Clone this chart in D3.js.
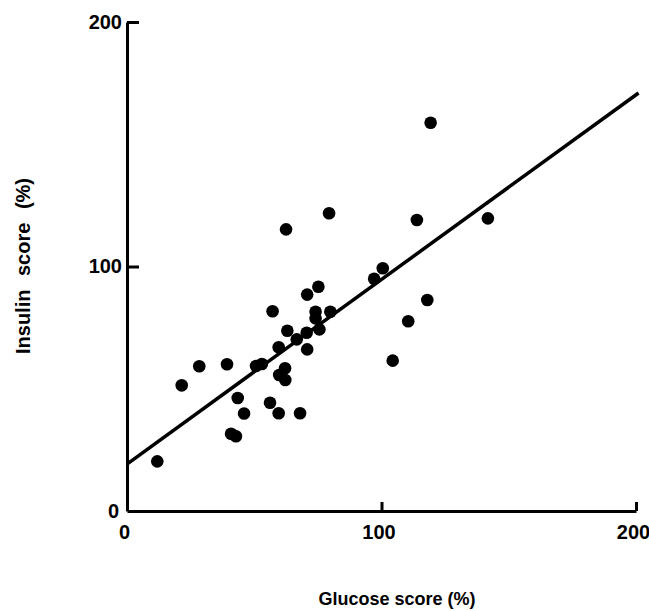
<!DOCTYPE html>
<html>
<head>
<meta charset="utf-8">
<script src="https://cdn.jsdelivr.net/npm/d3@7"></script>
<style>
  html, body { margin: 0; padding: 0; background: #fff; }
  svg { display: block; }
  text { font-family: "Liberation Sans", Arial, Helvetica, sans-serif; font-weight: bold; fill: #000; }
</style>
</head>
<body>
<svg id="chart" width="649" height="611"></svg>
<script>
// Glucose score (%) for each food
const glucose = [11.9, 21.5, 28.4, 39.3, 43.5, 46.0, 40.9, 42.8, 50.7, 53.0,
                 56.2, 59.6, 68.0, 59.8, 62.1, 62.2, 59.6, 63.0, 66.7, 70.6,
                 70.8, 70.8, 75.2, 74.1, 74.1, 75.6, 79.9, 97.1, 100.5, 104.4,
                 110.5, 118.0, 119.3, 79.4, 62.5, 113.9, 141.8, 57.2];
// Insulin score (%) for each food
const insulin = [20.3, 51.4, 59.2, 60.0, 46.2, 39.9, 31.6, 30.6, 59.3, 60.1,
                 44.3, 40.0, 40.0, 55.6, 58.4, 53.6, 67.0, 73.7, 70.2, 72.9,
                 66.1, 88.5, 91.7, 81.5, 78.8, 74.3, 81.5, 95.0, 99.3, 61.5,
                 77.6, 86.3, 158.8, 121.8, 115.2, 119.0, 119.7, 81.7];
// Regression line: insulin = intercept + slope * glucose
const fitIntercept = 19.2;
const fitSlope = 0.755;
const fitRange = [0, 201];
const xTicks = [0, 100, 200];
const yTicks = [0, 100, 200];
const xTitle = "Glucose score (%)";
const yTitle = "Insulin score (%)";

const svg = d3.select("#chart");
const x = d3.scaleLinear().domain([0, 200]).range([127, 636]);
const y = d3.scaleLinear().domain([0, 200]).range([511, 22]);

// axes
const gx = svg.append("g").attr("transform", `translate(0,${y(0)})`)
  .call(d3.axisBottom(x).tickValues(xTicks).tickSizeInner(-9).tickSizeOuter(0).tickPadding(14).tickFormat(d3.format("d")));
const gy = svg.append("g").attr("transform", `translate(${x(0)},0)`)
  .call(d3.axisLeft(y).tickValues(yTicks).tickSizeInner(-12).tickSizeOuter(0).tickPadding(5).tickFormat(d3.format("d")));

[gx, gy].forEach(g => {
  g.select(".domain").attr("stroke", "#000").attr("stroke-width", 3);
  g.selectAll(".tick line").attr("stroke", "#000").attr("stroke-width", 3);
  g.selectAll(".tick text").attr("font-size", 20).attr("fill", "#000")
    .style("font-family", '"Liberation Sans", Arial, sans-serif').style("font-weight", "bold");
});
gx.selectAll(".tick text").attr("dx", -3);
gx.selectAll(".tick").filter(d => d === 0).select("line").remove();
gy.selectAll(".tick").filter(d => d === 0).select("line").remove();
gy.selectAll(".tick").filter(d => d === 0).select("text").attr("dx", -3);

// regression line
const line = d3.line().x(d => x(d)).y(d => y(fitIntercept + fitSlope * d));
svg.append("path").datum(fitRange).attr("d", line)
  .attr("fill", "none").attr("stroke", "#000").attr("stroke-width", 3.5);

// points
svg.append("g").selectAll("circle").data(glucose.map((g, i) => [g, insulin[i]]))
  .join("circle")
  .attr("cx", d => x(d[0])).attr("cy", d => y(d[1])).attr("r", 6.3)
  .attr("fill", "#000");

// titles
svg.append("text").attr("x", 397).attr("y", 605).attr("text-anchor", "middle")
  .attr("font-size", 18).text(xTitle);
svg.append("text").attr("transform", "translate(30,266) rotate(-90)")
  .attr("text-anchor", "middle").attr("font-size", 20).attr("word-spacing", 8)
  .text(yTitle);
</script>
</body>
</html>
